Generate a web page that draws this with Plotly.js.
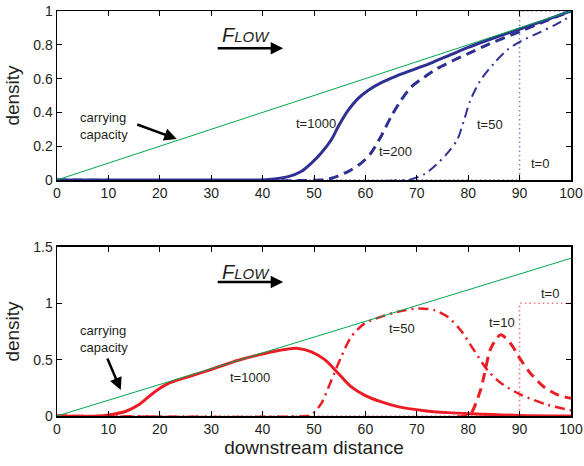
<!DOCTYPE html>
<html>
<head>
<meta charset="utf-8">
<script src="https://cdn.plot.ly/plotly-3.0.1.min.js"></script>
<style>html,body{margin:0;padding:0;background:#fff;}#chart{width:584px;height:466px;}</style>
</head>
<body>
<div id="chart"></div>
<script>
// ---- Data (carrying capacity) ----
const capX = [0, 100];
const capTop = [0, 1];
const capBottom = [0, 1.4];

// ---- Data (top panel, blue) ----
const topT0x = [0, 90, 90, 100];
const topT0y = [0, 0, 1, 1];

const topT50x = [0, 68, 69.5, 71.5, 73.4, 76, 77.9, 79.2, 80.4, 82.4, 85, 87.6, 90.2, 94, 97, 100];
const topT50y = [0, 0, 0.01, 0.035, 0.08, 0.16, 0.24, 0.355, 0.47, 0.59, 0.69, 0.77, 0.82, 0.875, 0.92, 0.97];

const topT200x = [0, 51, 53.4, 56.6, 59.2, 61.1, 63, 65, 66.9, 68.9, 71.5, 74, 77.3, 79.8, 83.7, 90.2, 95, 100];
const topT200y = [0, 0, 0.01, 0.05, 0.1, 0.16, 0.256, 0.375, 0.47, 0.55, 0.61, 0.66, 0.71, 0.745, 0.8, 0.88, 0.94, 1];

const topT1000x = [0, 38, 41.1, 45, 47.5, 49.5, 51.4, 53.4, 54.7, 56.6, 58.5, 60.5, 63, 66, 69.5, 73, 76.5, 80, 84, 90.2, 95, 100];
const topT1000y = [0, 0, 0.003, 0.02, 0.05, 0.1, 0.16, 0.24, 0.315, 0.41, 0.48, 0.53, 0.575, 0.615, 0.655, 0.695, 0.74, 0.785, 0.83, 0.895, 0.945, 1];

// ---- Data (bottom panel, red) ----
const botT0x = [0, 90, 90, 100];
const botT0y = [0, 0, 1, 1];

const botT10x = [0, 79.5, 80.5, 82.4, 83.1, 84.4, 86.3, 88.2, 90.2, 92.1, 94.7, 97.3, 100];
const botT10y = [0, 0, 0.02, 0.23, 0.36, 0.6, 0.72, 0.645, 0.5, 0.38, 0.26, 0.19, 0.157];

const botT50x = [0, 48.5, 49.5, 51.4, 53.4, 55.3, 57.2, 59.8, 63, 66.3, 70.2, 73.4, 76, 78.5, 81.1, 83.7, 86.4, 90.2, 95.4, 100];
const botT50y = [0, 0, 0.01, 0.11, 0.32, 0.526, 0.7, 0.82, 0.88, 0.925, 0.955, 0.94, 0.88, 0.763, 0.586, 0.41, 0.29, 0.19, 0.1, 0.05];

const botT1000x = [0, 8, 10.1, 13.3, 15.9, 17.8, 19.8, 21.5, 23.5, 26, 30.1, 35.3, 40.4, 44.3, 46.9, 49.5, 52.1, 54.7, 57.2, 59.8, 63, 66.3, 71.5, 76, 80.5, 90, 100];
const botT1000y = [0, 0, 0.01, 0.04, 0.1, 0.17, 0.24, 0.285, 0.32, 0.355, 0.415, 0.495, 0.555, 0.59, 0.6, 0.57, 0.5, 0.38, 0.26, 0.186, 0.127, 0.083, 0.047, 0.03, 0.02, 0.005, 0];

const xTicks = [0, 10, 20, 30, 40, 50, 60, 70, 80, 90, 100];
const yTicksTop = [0, 0.2, 0.4, 0.6, 0.8, 1];
const yTicksBottom = [0, 0.5, 1, 1.5];
const yTickTextBottom = ['0', '0.5', '1', '1.5'];

const BLUE = '#2e3192';
const RED = '#ed1c24';
const GREEN = '#00a651';
const FONT = 'Liberation Sans, Arial, sans-serif';

function tr(x, y, xa, ya, color, width, dash) {
  return {x: x, y: y, xaxis: xa, yaxis: ya, type: 'scatter', mode: 'lines',
          line: {color: color, width: width, dash: dash, shape: 'spline', smoothing: 0.8},
          hoverinfo: 'skip', showlegend: false};
}
function stepTr(x, y, xa, ya, color) {
  return {x: x, y: y, xaxis: xa, yaxis: ya, type: 'scatter', mode: 'lines',
          line: {color: color, width: 1.5, dash: '1.5px,3px'}, opacity: 0.6,
          hoverinfo: 'skip', showlegend: false};
}

const DASH = '10px,6px';
const DASHDOT = '10px,5px,2px,5px';

const data = [
  stepTr(topT0x, topT0y, 'x', 'y', BLUE),
  tr(topT50x, topT50y, 'x', 'y', BLUE, 2, DASHDOT),
  tr(topT200x, topT200y, 'x', 'y', BLUE, 3, DASH),
  tr(topT1000x, topT1000y, 'x', 'y', BLUE, 3, 'solid'),
  {x: capX, y: capTop, xaxis: 'x', yaxis: 'y', type: 'scatter', mode: 'lines', line: {color: GREEN, width: 1}, hoverinfo: 'skip', showlegend: false},
  stepTr(botT0x, botT0y, 'x2', 'y2', RED),
  tr(botT10x, botT10y, 'x2', 'y2', RED, 3, DASH),
  tr(botT50x, botT50y, 'x2', 'y2', RED, 2.5, DASHDOT),
  tr(botT1000x, botT1000y, 'x2', 'y2', RED, 3, 'solid'),
  {x: capX, y: capBottom, xaxis: 'x2', yaxis: 'y2', type: 'scatter', mode: 'lines', line: {color: GREEN, width: 1}, hoverinfo: 'skip', showlegend: false}
];

const axisCommon = {
  showline: true, linecolor: '#000', linewidth: 1.5, mirror: 'ticks',
  ticks: 'inside', ticklen: 5, tickcolor: '#000', tickwidth: 1,
  showgrid: false, zeroline: false, ticklabeloverflow: 'allow',
  tickfont: {family: FONT, size: 14, color: '#231f20'}
};

const lbl = (text, x, y, xr, yr, extra) => Object.assign({
  text: text, x: x, y: y, xref: xr, yref: yr, showarrow: false,
  font: {family: FONT, size: 13, color: '#231f20'}
}, extra || {});

const flowText = "<i>F<span style='font-size:15px'>LOW</span></i>";

const layout = {
  width: 584, height: 466,
  margin: {l: 57, r: 13, t: 11, b: 50},
  paper_bgcolor: '#fff', plot_bgcolor: '#fff',
  xaxis: Object.assign({}, axisCommon, {domain: [0, 1], range: [0, 100], tickvals: xTicks, anchor: 'y'}),
  yaxis: Object.assign({}, axisCommon, {domain: [0.5827, 1], range: [0, 1], tickvals: yTicksTop, anchor: 'x',
    title: {text: 'density', font: {family: FONT, size: 19, color: '#231f20'}, standoff: 8}}),
  xaxis2: Object.assign({}, axisCommon, {domain: [0, 1], range: [0, 100], tickvals: xTicks, anchor: 'y2',
    title: {text: 'downstream distance', font: {family: FONT, size: 19, color: '#231f20'}, standoff: 2}}),
  yaxis2: Object.assign({}, axisCommon, {domain: [0, 0.4173], range: [0, 1.5], tickvals: yTicksBottom, ticktext: yTickTextBottom, anchor: 'x2',
    title: {text: 'density', font: {family: FONT, size: 19, color: '#231f20'}, standoff: 8}}),
  annotations: [
    // top panel
    lbl('t=1000', 50.4, 0.337, 'x', 'y'),
    lbl('t=200', 65.9, 0.17, 'x', 'y'),
    lbl('t=50', 84.3, 0.33, 'x', 'y'),
    lbl('t=0', 94, 0.10, 'x', 'y'),
    lbl('carrying<br>capacity', 4, 0.32, 'x', 'y', {xanchor: 'left', align: 'left'}),
    {x: 23.3, y: 0.243, xref: 'x', yref: 'y', ax: -41, ay: -15, text: '', showarrow: true,
     arrowhead: 2, arrowsize: 1, arrowwidth: 2.5, arrowcolor: '#000'},
    lbl(flowText, 36.8, 0.86, 'x', 'y', {font: {family: FONT, size: 20, color: '#231f20'}}),
    {x: 44, y: 0.78, xref: 'x', yref: 'y', ax: -67, ay: 0, text: '', showarrow: true,
     arrowhead: 2, arrowsize: 1, arrowwidth: 2.5, arrowcolor: '#000'},
    // bottom panel
    lbl('t=1000', 37.6, 0.34, 'x2', 'y2'),
    lbl('t=50', 67.2, 0.78, 'x2', 'y2'),
    lbl('t=10', 86.6, 0.83, 'x2', 'y2'),
    lbl('t=0', 95.9, 1.09, 'x2', 'y2'),
    lbl('carrying<br>capacity', 4, 0.68, 'x2', 'y2', {xanchor: 'left', align: 'left'}),
    {x: 12.4, y: 0.23, xref: 'x2', yref: 'y2', ax: -14, ay: -33, text: '', showarrow: true,
     arrowhead: 2, arrowsize: 1, arrowwidth: 2.5, arrowcolor: '#000'},
    lbl(flowText, 36.8, 1.28, 'x2', 'y2', {font: {family: FONT, size: 20, color: '#231f20'}}),
    {x: 44, y: 1.19, xref: 'x2', yref: 'y2', ax: -67, ay: 0, text: '', showarrow: true,
     arrowhead: 2, arrowsize: 1, arrowwidth: 2.5, arrowcolor: '#000'}
  ]
};

Plotly.newPlot('chart', data, layout, {staticPlot: true, displayModeBar: false});
</script>
</body>
</html>
